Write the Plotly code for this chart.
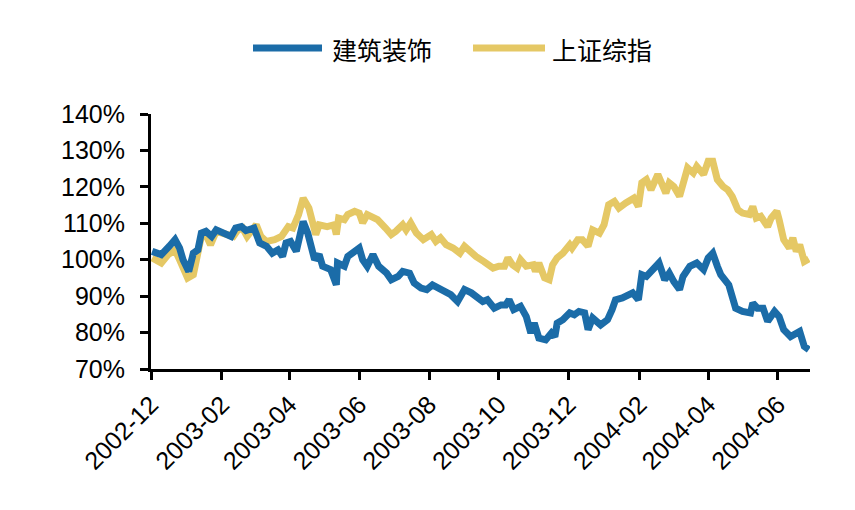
import plotly.graph_objects as go

series_names = ["建筑装饰", "上证综指"]

dates_jz = [
    "2002-12-02", "2002-12-10", "2002-12-17", "2002-12-22", "2002-12-26", "2002-12-29",
    "2003-01-03", "2003-01-07", "2003-01-11", "2003-01-14", "2003-01-18", "2003-01-23", "2003-01-27",
    "2003-02-03", "2003-02-09", "2003-02-13", "2003-02-18", "2003-02-22",
    "2003-03-01", "2003-03-06", "2003-03-12", "2003-03-17", "2003-03-22", "2003-03-26", "2003-03-29",
    "2003-04-02", "2003-04-07", "2003-04-13", "2003-04-17", "2003-04-23", "2003-04-27", "2003-04-30",
    "2003-05-07", "2003-05-12", "2003-05-13", "2003-05-19", "2003-05-22", "2003-05-26",
    "2003-06-01", "2003-06-04", "2003-06-08", "2003-06-13", "2003-06-18", "2003-06-25", "2003-06-29",
    "2003-07-05", "2003-07-09", "2003-07-15", "2003-07-19", "2003-07-25", "2003-07-30",
    "2003-08-04", "2003-08-10", "2003-08-16", "2003-08-20", "2003-08-26",
    "2003-09-01", "2003-09-07", "2003-09-11", "2003-09-17", "2003-09-21", "2003-09-27",
    "2003-10-03", "2003-10-07", "2003-10-10", "2003-10-14", "2003-10-20", "2003-10-25", "2003-10-29",
    "2003-11-01", "2003-11-05", "2003-11-11", "2003-11-16", "2003-11-19", "2003-11-21", "2003-11-26",
    "2003-12-02", "2003-12-06", "2003-12-10", "2003-12-15", "2003-12-18", "2003-12-22", "2003-12-29",
    "2004-01-04", "2004-01-08", "2004-01-11", "2004-01-17", "2004-01-26", "2004-01-31",
    "2004-02-03", "2004-02-07", "2004-02-11", "2004-02-18", "2004-02-23", "2004-02-27",
    "2004-03-02", "2004-03-07", "2004-03-10", "2004-03-16", "2004-03-22", "2004-03-28",
    "2004-04-01", "2004-04-05", "2004-04-09", "2004-04-12", "2004-04-19", "2004-04-25",
    "2004-05-01", "2004-05-08", "2004-05-10", "2004-05-14", "2004-05-19", "2004-05-23", "2004-05-29",
    "2004-06-02", "2004-06-06", "2004-06-12", "2004-06-20", "2004-06-24", "2004-06-28",
]
values_jz = [
    102.3, 101.4, 103.7, 105.5, 103.2, 100.0,
    96.8, 101.8, 102.7, 107.3, 107.8, 106.4, 108.2,
    107.3, 106.4, 108.7, 109.1, 108.0,
    108.7, 104.6, 103.7, 101.8, 102.7, 100.9, 104.6,
    105.0, 102.3, 110.5, 107.3, 100.0, 101.4, 98.2,
    97.3, 93.1, 99.1, 98.2, 100.9, 101.8,
    103.2, 100.0, 98.2, 101.4, 98.2, 96.3, 94.5,
    95.4, 96.8, 96.3, 93.6, 92.2, 91.8,
    93.1, 92.2, 91.3, 90.4, 88.5,
    91.8, 90.9, 89.9, 88.5, 89.0, 86.7,
    87.6, 87.6, 89.0, 86.3, 87.2, 84.4, 79.9,
    82.6, 78.5, 78.0, 79.9, 78.9, 82.6, 83.5,
    85.4, 84.9, 85.8, 85.4, 80.8, 84.0, 82.1,
    83.5, 86.3, 89.0, 89.5, 90.9, 89.0,
    95.9, 95.4, 96.8, 99.1, 94.5, 96.3,
    94.0, 91.8, 95.4, 98.2, 99.1, 97.3,
    100.5, 101.8, 98.2, 95.9, 93.1, 86.7,
    85.8, 85.4, 88.1, 86.7, 86.7, 83.1, 85.8,
    84.4, 80.8, 78.9, 80.3, 76.2, 75.3,
]

dates_sz = [
    "2002-12-02", "2002-12-10", "2002-12-16", "2002-12-22", "2002-12-26", "2002-12-29",
    "2003-01-02", "2003-01-07", "2003-01-11", "2003-01-14", "2003-01-18", "2003-01-22", "2003-01-27",
    "2003-02-03", "2003-02-11", "2003-02-15", "2003-02-19", "2003-02-23",
    "2003-03-03", "2003-03-07", "2003-03-12", "2003-03-19", "2003-03-25", "2003-03-31",
    "2003-04-04", "2003-04-09", "2003-04-13", "2003-04-18", "2003-04-21", "2003-04-24", "2003-04-27",
    "2003-05-04", "2003-05-10", "2003-05-12", "2003-05-14", "2003-05-19", "2003-05-22", "2003-05-28",
    "2003-06-01", "2003-06-04", "2003-06-08", "2003-06-13", "2003-06-17", "2003-06-24", "2003-06-29",
    "2003-07-03", "2003-07-09", "2003-07-12", "2003-07-16", "2003-07-21", "2003-07-27",
    "2003-08-03", "2003-08-07", "2003-08-11", "2003-08-16", "2003-08-22", "2003-08-28",
    "2003-09-01", "2003-09-05", "2003-09-11", "2003-09-18", "2003-09-26",
    "2003-10-01", "2003-10-06", "2003-10-09", "2003-10-13", "2003-10-17", "2003-10-20", "2003-10-25", "2003-10-31",
    "2003-11-02", "2003-11-05", "2003-11-10", "2003-11-14", "2003-11-17", "2003-11-21", "2003-11-26",
    "2003-12-02", "2003-12-04", "2003-12-09", "2003-12-13", "2003-12-18", "2003-12-22", "2003-12-28",
    "2004-01-01", "2004-01-05", "2004-01-10", "2004-01-14", "2004-01-20", "2004-01-27", "2004-01-31",
    "2004-02-03", "2004-02-07", "2004-02-11", "2004-02-17", "2004-02-21", "2004-02-24", "2004-02-27",
    "2004-03-02", "2004-03-07", "2004-03-11", "2004-03-14", "2004-03-19", "2004-03-22", "2004-03-28",
    "2004-04-01", "2004-04-05", "2004-04-09", "2004-04-14", "2004-04-18", "2004-04-22", "2004-04-27",
    "2004-05-01", "2004-05-07", "2004-05-10", "2004-05-13", "2004-05-17", "2004-05-23", "2004-05-26", "2004-05-31",
    "2004-06-02", "2004-06-06", "2004-06-11", "2004-06-14", "2004-06-17", "2004-06-20", "2004-06-24", "2004-06-28",
]
values_sz = [
    100.5, 99.1, 101.4, 102.7, 100.0, 98.2,
    95.0, 95.9, 100.9, 106.4, 106.9, 104.1, 107.8,
    107.3, 106.4, 108.2, 108.7, 106.4,
    109.6, 106.4, 105.0, 105.5, 106.4, 109.1,
    108.7, 112.4, 116.9, 114.2, 110.1, 106.9, 109.6,
    109.1, 109.6, 106.9, 111.4, 111.0, 112.4, 113.3,
    112.8, 110.1, 112.4, 111.9, 111.0, 108.7, 106.9,
    107.8, 109.6, 108.2, 110.1, 107.3, 105.5,
    106.9, 105.0, 106.0, 104.1, 103.2, 101.8,
    103.7, 102.3, 100.9, 99.5, 97.7,
    98.2, 98.2, 100.5, 98.6, 97.7, 100.0, 98.2, 98.6,
    96.8, 99.1, 95.0, 94.5, 98.6, 100.5, 101.8,
    104.1, 103.2, 105.5, 105.5, 103.7, 108.2, 107.3,
    109.6, 115.1, 116.0, 114.2, 115.6, 116.9, 114.6,
    121.1, 122.0, 119.2, 123.4, 120.1, 118.3, 121.1,
    120.1, 117.4, 122.0, 125.2, 123.8, 125.6, 123.4,
    127.0, 127.0, 122.0, 120.1, 119.2, 117.4, 113.7,
    112.8, 112.4, 114.6, 111.4, 111.9, 109.1, 111.4, 113.3,
    111.0, 105.5, 103.2, 106.0, 102.3, 104.1, 99.5, 100.2,
]

y_ticks = [70, 80, 90, 100, 110, 120, 130, 140]
x_ticks = ["2002-12-01", "2003-02-01", "2003-04-01", "2003-06-01", "2003-08-01",
           "2003-10-01", "2003-12-01", "2004-02-01", "2004-04-01", "2004-06-01"]
x_tick_labels = ["2002-12", "2003-02", "2003-04", "2003-06", "2003-08",
                 "2003-10", "2003-12", "2004-02", "2004-04", "2004-06"]

colors = ["#1B6CA8", "#E5C865"]

# page offset (body margin) compensation
OFF = 8
W, H = 855 - OFF, 510 - OFF
ML, MR, MT, MB = 151 - OFF, 45, 114 - OFF, 141
PW, PH = W - ML - MR, H - MT - MB

def px_x(px):
    return (px - OFF - ML) / PW

def px_y(py):
    return (H - MB - (py - OFF)) / PH

fig = go.Figure()
fig.add_trace(go.Scatter(x=dates_sz, y=values_sz, mode="lines", name=series_names[1],
                         line=dict(color=colors[1], width=7), showlegend=False))
fig.add_trace(go.Scatter(x=dates_jz, y=values_jz, mode="lines", name=series_names[0],
                         line=dict(color=colors[0], width=7), showlegend=False))

# custom legend
legend_items = [(253, 322, 330), (473, 545, 550)]
for i, (x0, x1, tx) in enumerate(legend_items):
    fig.add_shape(type="line", xref="paper", yref="paper",
                  x0=px_x(x0), x1=px_x(x1), y0=px_y(48), y1=px_y(48),
                  line=dict(color=colors[i], width=7))
    fig.add_annotation(xref="paper", yref="paper", x=px_x(tx), y=px_y(49),
                       text=series_names[i], showarrow=False, xanchor="left", yanchor="middle",
                       font=dict(family="Noto Sans CJK SC", size=25, color="#000000"))

fig.update_layout(
    width=W, height=H,
    margin=dict(l=ML, r=MR, t=MT, b=MB),
    paper_bgcolor="white", plot_bgcolor="white",
    font=dict(family="Liberation Sans, Arial", size=25, color="#000000"),
    xaxis=dict(type="date", range=["2002-12-01", "2004-06-29"],
               tickmode="array", tickvals=x_ticks, ticktext=x_tick_labels,
               tickangle=-45, ticks="outside", ticklen=8, tickwidth=2.5, tickcolor="black",
               showline=True, linecolor="black", linewidth=3, showgrid=False, zeroline=False,
               tickfont=dict(size=25)),
    yaxis=dict(range=[70, 140], tickmode="array", tickvals=y_ticks,
               ticktext=[f"{v}%" for v in y_ticks],
               ticks="outside", ticklen=8, tickwidth=2.5, tickcolor="black",
               showline=True, linecolor="black", linewidth=3, showgrid=False, zeroline=False,
               ticklabelstandoff=10,
               tickfont=dict(size=25)),
)

fig.write_html("out.html")
